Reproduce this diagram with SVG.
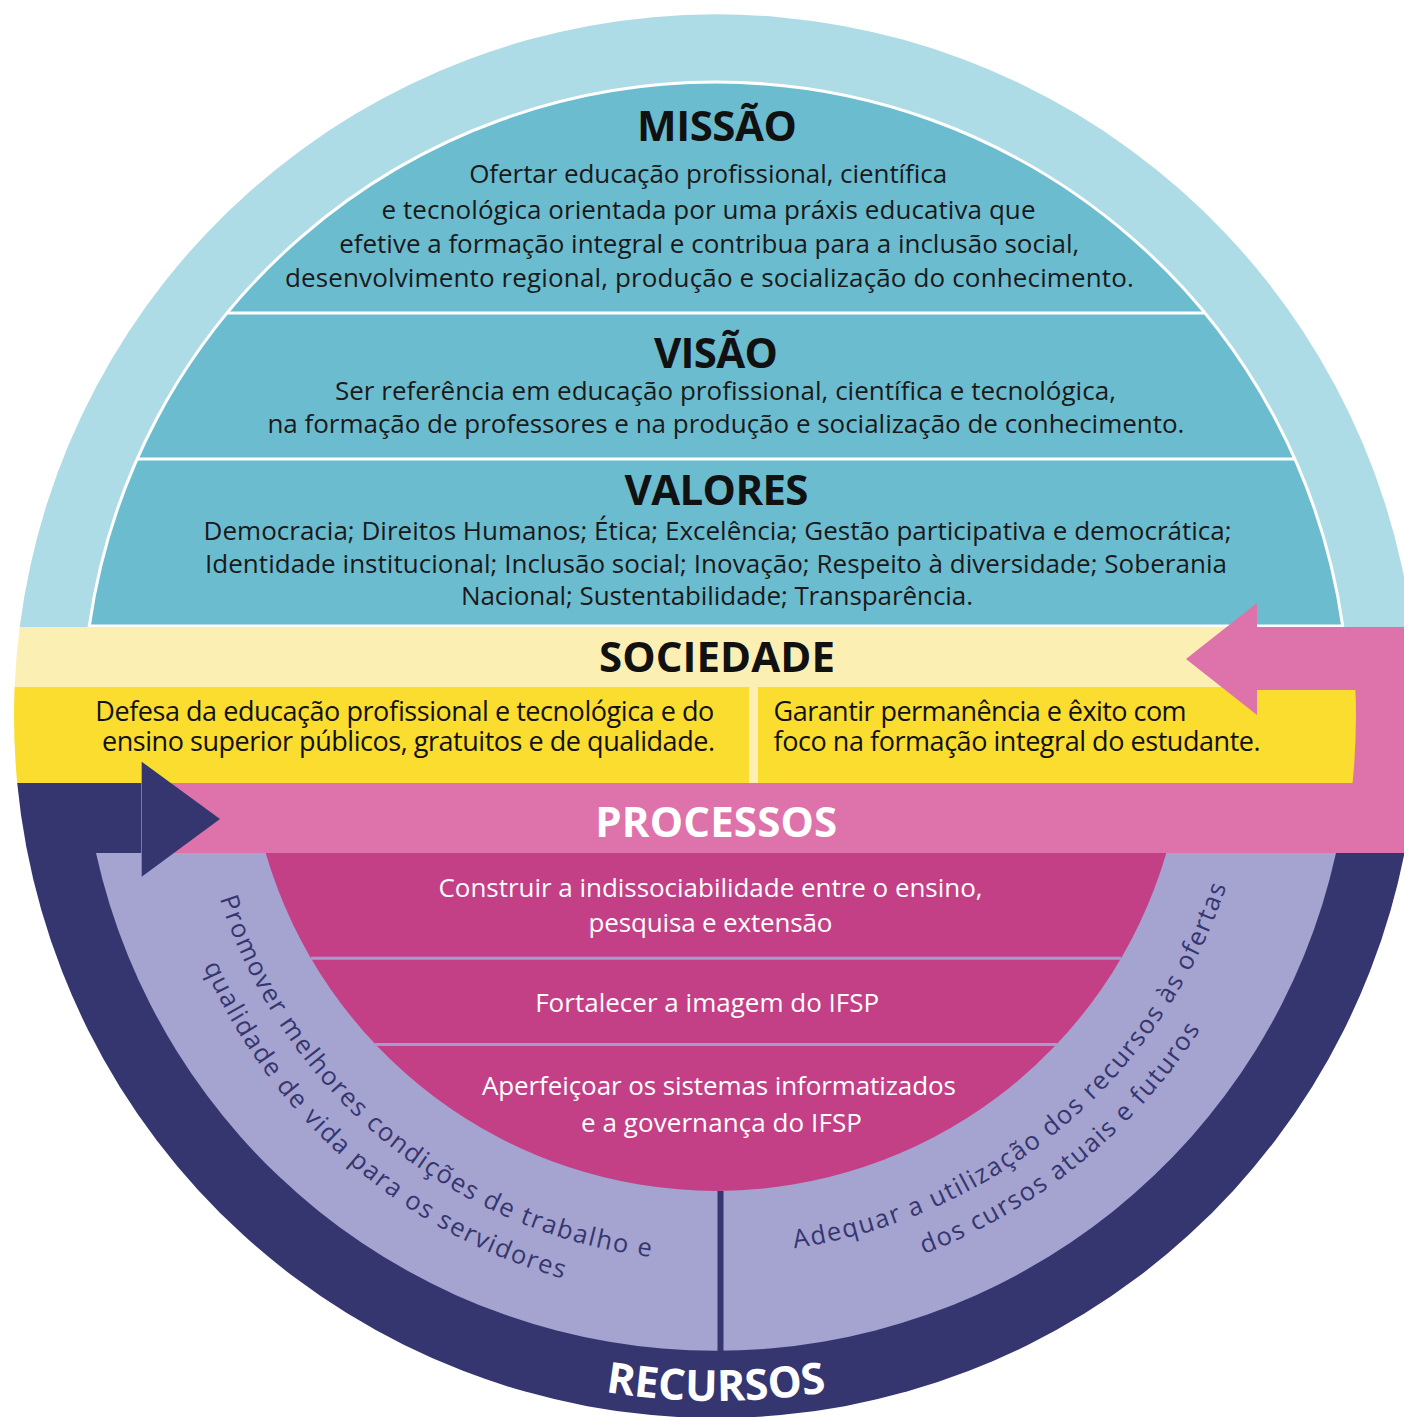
<svg xmlns="http://www.w3.org/2000/svg" width="1404" height="1417" viewBox="0 0 1404 1417">
<defs>
<style>
.title{font-family:"Open Sans","Liberation Sans",sans-serif;font-weight:700;font-size:42px;text-anchor:middle;fill:#111}
.body{font-family:"Open Sans","Liberation Sans",sans-serif;font-size:26px;text-anchor:middle;fill:#1a1a1a}
.soc{font-family:"Open Sans","Liberation Sans",sans-serif;font-size:27px;fill:#111}
.wt{fill:#fff}
.arc{font-family:"Open Sans","Liberation Sans",sans-serif;font-size:25.5px;fill:#35366F;letter-spacing:1.6px}
</style>
<path id="pL1" d="M195,743.2 A521,521 0 0 0 809.6,1252.5"/>
<path id="pL2" d="M156.1,730.7 A560,560 0 0 0 804.1,1293"/>
<path id="pR1" d="M623,1245.9 A538,538 0 0 0 1254,715.5"/>
<path id="pR2" d="M607.9,1282.8 A577,577 0 0 0 1292.9,724.1"/>
<path id="pRec" d="M275.7,1240.7 A685,685 0 0 0 1156.3,1240.7"/>
</defs>
<rect width="1404" height="1417" fill="#fff"/>

<g id="missao-visao-valores">
<path d="M19.7,627 A702,702 0 0 1 1412.3,627 Z" fill="#AEDCE6"/>
<path d="M89.3,626 A633,633 0 0 1 1342.7,626 Z" fill="#6CBCD0" stroke="#fff" stroke-width="3"/>
<line x1="228" y1="313" x2="1204" y2="313" stroke="#fff" stroke-width="3"/>
<line x1="137.5" y1="459" x2="1294.5" y2="459" stroke="#fff" stroke-width="3"/>
</g>

<g id="missao">
<text class="title" x="717" y="141" textLength="160">MISSÃO</text>
<text class="body" x="708.2" y="183" textLength="478">Ofertar educação profissional, científica</text>
<text class="body" x="708.5" y="218.5" textLength="654">e tecnológica orientada por uma práxis educativa que</text>
<text class="body" x="709.2" y="253" textLength="740">efetive a formação integral e contribua para a inclusão social,</text>
<text class="body" x="709.4" y="287" textLength="849">desenvolvimento regional, produção e socialização do conhecimento.</text>
</g>

<g id="visao">
<text class="title" x="716" y="367.5" textLength="124">VISÃO</text>
<text class="body" x="725.4" y="399.5" textLength="781">Ser referência em educação profissional, científica e tecnológica,</text>
<text class="body" x="725.9" y="433" textLength="917">na formação de professores e na produção e socialização de conhecimento.</text>
</g>

<g id="valores">
<text class="title" x="716.5" y="504.5" textLength="184">VALORES</text>
<text class="body" x="717.6" y="540" textLength="1028">Democracia; Direitos Humanos; Ética; Excelência; Gestão participativa e democrática;</text>
<text class="body" x="716" y="572.5" textLength="1022">Identidade institucional; Inclusão social; Inovação; Respeito à diversidade; Soberania</text>
<text class="body" x="717" y="605" textLength="512">Nacional; Sustentabilidade; Transparência.</text>
</g>

<g id="bands">
<path d="M19.7,627 L1300,627 L1300,687 L14.6,687 A702,702 0 0 1 19.7,627 Z" fill="#FCEFB4"/>
<rect x="1257" y="627" width="147" height="226" fill="#DE72AA"/>
<path d="M14.6,687 L1355.3,687 A640,640 0 0 1 1352.5,783 L17.2,783 A702,702 0 0 1 14.6,687 Z" fill="#FADD2E"/>
<rect x="749" y="687" width="9" height="96" fill="#FCEFB4"/>
<path d="M1414.8,783 A702,702 0 0 1 17.2,783 Z" fill="#35366F"/>
<rect x="141" y="783" width="1263" height="70" fill="#DE72AA"/>
<path d="M1336,853 A635,635 0 0 1 96,853 Z" fill="#A5A3D0"/>
<path d="M1166.3,853 A469,469 0 0 1 265.7,853 Z" fill="#C34087"/>
<line x1="311" y1="958.3" x2="1121" y2="958.3" stroke="#A79BCB" stroke-width="3"/>
<line x1="375" y1="1044.5" x2="1057" y2="1044.5" stroke="#A79BCB" stroke-width="3"/>
<line x1="720.5" y1="1191" x2="720.5" y2="1354" stroke="#35366F" stroke-width="6"/>
</g>

<g id="connectors">
<rect x="1257" y="627" width="147" height="63" fill="#DE72AA"/>
<polygon points="1257,603 1186,659 1257,715" fill="#DE72AA"/>
<polygon points="141.7,761.7 220,819 141.7,876.7" fill="#35366F"/>
</g>

<g id="sociedade">
<text class="title" x="717" y="672" textLength="236">SOCIEDADE</text>
<text class="soc" x="95.3" y="720.5" textLength="619">Defesa da educação profissional e tecnológica e do</text>
<text class="soc" x="102" y="750.5" textLength="613">ensino superior públicos, gratuitos e de qualidade.</text>
<text class="soc" x="773.6" y="720.5" textLength="413">Garantir permanência e êxito com</text>
<text class="soc" x="773.6" y="750.5" textLength="487">foco na formação integral do estudante.</text>
</g>

<g id="processos">
<text class="title wt" x="716.2" y="837" textLength="242">PROCESSOS</text>
<text class="body wt" x="710.5" y="897.3" textLength="544">Construir a indissociabilidade entre o ensino,</text>
<text class="body wt" x="710.5" y="931.7" textLength="244">pesquisa e extensão</text>
<text class="body wt" x="707.2" y="1011.7" textLength="344">Fortalecer a imagem do IFSP</text>
<text class="body wt" x="718.9" y="1095" textLength="474">Aperfeiçoar os sistemas informatizados</text>
<text class="body wt" x="721.4" y="1131.7" textLength="281">e a governança do IFSP</text>
</g>

<g id="recursos">
<text class="arc"><textPath href="#pL1" startOffset="50%" text-anchor="middle">Promover melhores condições de trabalho e</textPath></text>
<text class="arc"><textPath href="#pL2" startOffset="50%" text-anchor="middle">qualidade de vida para os servidores</textPath></text>
<text class="arc"><textPath href="#pR1" startOffset="50%" text-anchor="middle">Adequar a utilização dos recursos às ofertas</textPath></text>
<text class="arc"><textPath href="#pR2" startOffset="50%" text-anchor="middle">dos cursos atuais e futuros</textPath></text>
<text class="title wt" style="font-size:43px"><textPath href="#pRec" startOffset="50%" text-anchor="middle">RECURSOS</textPath></text>
</g>
</svg>
